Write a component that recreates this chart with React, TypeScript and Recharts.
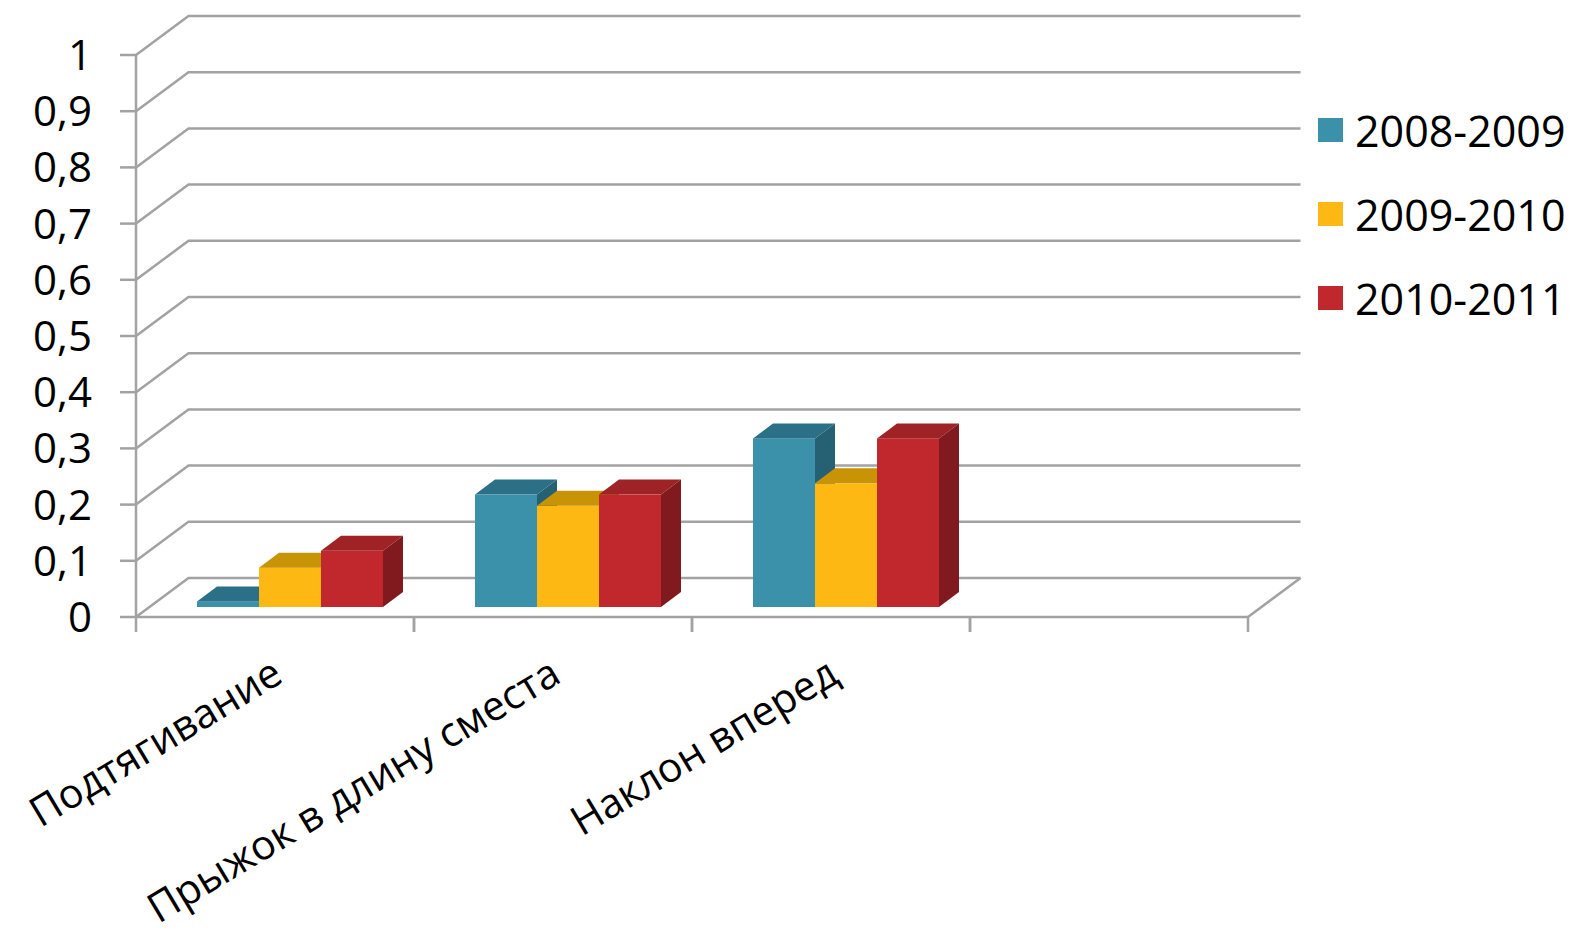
import {
  Bar,
  BarChart,
  CartesianGrid,
  Legend,
  ReferenceLine,
  XAxis,
  YAxis,
} from "recharts";

const CATEGORIES = ["Подтягивание", "Прыжок в длину сместа", "Наклон вперед", ""];
const SERIES_NAMES = ["2008-2009", "2009-2010", "2010-2011"];
const VALUES_2008 = [0.01, 0.2, 0.3, null];
const VALUES_2009 = [0.07, 0.18, 0.22, null];
const VALUES_2010 = [0.1, 0.2, 0.3, null];
const Y_TICKS = [0, 0.1, 0.2, 0.3, 0.4, 0.5, 0.6, 0.7, 0.8, 0.9, 1];

const FONT = "'Open Sans', sans-serif";
const GRID = "#a2a2a2";

// front / top / side face colours
const FACES = [
  { front: "#3a91a9", top: "#2c7087", side: "#266173" },
  { front: "#fdb813", top: "#c99306", side: "#b58300" },
  { front: "#c0282d", top: "#9e2226", side: "#801a1e" },
];

// 3d offsets: back wall, bar position inside the box, bar depth
const WALL_X = 52.5;
const WALL_Y = -39;
const SHIFT_X = 15;
const SHIFT_Y = -10;
const DEPTH_X = 20;
const DEPTH_Y = -15;

const data = CATEGORIES.map((name, i) => ({
  name,
  a: VALUES_2008[i],
  b: VALUES_2009[i],
  c: VALUES_2010[i],
}));

function Bar3D(props: any) {
  const { x, y, width, height, faces, value } = props;
  if (value == null || !width || height == null || isNaN(height)) return null;
  const fx = x + SHIFT_X;
  const fy = y + SHIFT_Y;
  const r = fx + width;
  const b = fy + height;
  return (
    <g>
      <rect x={fx} y={fy} width={width} height={height} fill={faces.front} />
      <polygon
        points={`${fx},${fy} ${fx + DEPTH_X},${fy + DEPTH_Y} ${r + DEPTH_X},${fy + DEPTH_Y} ${r},${fy}`}
        fill={faces.top}
      />
      <polygon
        points={`${r},${fy} ${r + DEPTH_X},${fy + DEPTH_Y} ${r + DEPTH_X},${b + DEPTH_Y} ${r},${b}`}
        fill={faces.side}
      />
    </g>
  );
}

function gridLine(p: any) {
  return (
    <path
      key={p.key ?? p.index}
      d={`M${p.x1},${p.y1} L${p.x1 + WALL_X},${p.y1 + WALL_Y} L${p.x2 + WALL_X},${p.y1 + WALL_Y}`}
      fill="none"
      stroke={GRID}
      strokeWidth={2.5}
    />
  );
}

function floorEdge(p: any) {
  return (
    <line
      x1={p.x2}
      y1={p.y2}
      x2={p.x2 + WALL_X}
      y2={p.y2 + WALL_Y}
      stroke={GRID}
      strokeWidth={2.5}
    />
  );
}

function CategoryTick(props: any) {
  const { x, y, payload } = props;
  const half = payload?.offset || 139;
  const tx = x + 10;
  const ty = y + 64;
  return (
    <g>
      <line x1={x - half} y1={y} x2={x - half} y2={y + 15} stroke={GRID} strokeWidth={2.5} />
      <line x1={x + half} y1={y} x2={x + half} y2={y + 15} stroke={GRID} strokeWidth={2.5} />
      {payload?.value ? (
        <text
          x={tx}
          y={ty}
          transform={`rotate(-31, ${tx}, ${ty})`}
          textAnchor="end"
          fontSize={41}
          fontFamily={FONT}
          fill="#000"
        >
          {payload.value}
        </text>
      ) : null}
    </g>
  );
}

const yLabel = (v: number) =>
  v === 0 ? "0" : v === 1 ? "1" : v.toFixed(1).replace(".", ",");

function renderLegend({ payload }: any) {
  return (
    <div>
      {(payload || []).map((e: any, i: number) => (
        <div key={i} style={{ display: "flex", alignItems: "center", height: 84 }}>
          <span
            style={{
              display: "inline-block",
              width: 25,
              height: 24,
              background: e.color,
              marginRight: 12,
            }}
          />
          <span style={{ fontSize: 43, fontFamily: FONT, color: "#000", lineHeight: 1 }}>
            {e.value}
          </span>
        </div>
      ))}
    </div>
  );
}

export default function App() {
  return (
    <div style={{ position: "absolute", left: 0, top: 0 }}>
      <BarChart
        width={1572}
        height={933}
        data={data}
        margin={{ top: 55, right: 324, bottom: 0, left: 0 }}
        barGap={0}
        barSize={62}
      >
        <CartesianGrid vertical={false} horizontal={gridLine} />
        <XAxis
          dataKey="name"
          interval={0}
          height={316}
          tickSize={0}
          tickMargin={0}
          tickLine={false}
          axisLine={{ stroke: GRID, strokeWidth: 2.5 }}
          tick={<CategoryTick />}
        />
        <YAxis
          width={136}
          domain={[0, 1]}
          ticks={Y_TICKS}
          interval={0}
          tickSize={16}
          tickMargin={28}
          tickFormatter={yLabel}
          axisLine={{ stroke: GRID, strokeWidth: 2.5 }}
          tickLine={{ stroke: GRID, strokeWidth: 2.5 }}
          tick={{ fontSize: 42, fontFamily: FONT, fill: "#000" }}
        />
        <ReferenceLine y={0} shape={floorEdge} />
        <Legend
          layout="horizontal"
          verticalAlign="bottom"
          content={renderLegend}
          wrapperStyle={{
            left: 1318,
            top: 88,
            right: "auto",
            bottom: "auto",
            width: 254,
            height: 0,
            overflow: "visible",
          }}
        />
        <Bar
          dataKey="a"
          name={SERIES_NAMES[0]}
          fill={FACES[0].front}
          isAnimationActive={false}
          shape={(p: any) => <Bar3D {...p} faces={FACES[0]} />}
        />
        <Bar
          dataKey="b"
          name={SERIES_NAMES[1]}
          fill={FACES[1].front}
          isAnimationActive={false}
          shape={(p: any) => <Bar3D {...p} faces={FACES[1]} />}
        />
        <Bar
          dataKey="c"
          name={SERIES_NAMES[2]}
          fill={FACES[2].front}
          isAnimationActive={false}
          shape={(p: any) => <Bar3D {...p} faces={FACES[2]} />}
        />
      </BarChart>
    </div>
  );
}
